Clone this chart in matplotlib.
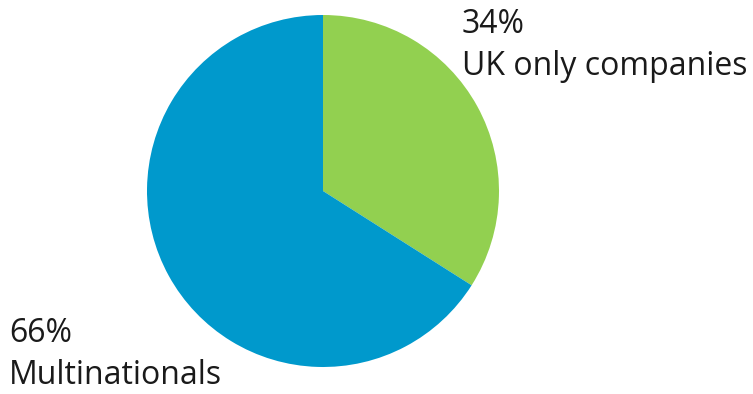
import matplotlib
matplotlib.use("Agg")
import matplotlib.pyplot as plt

labels = ["UK only companies", "Multinationals"]
shares = [34, 66]
colors = ["#92D050", "#0099CC"]

W, H = 753, 394
fig = plt.figure(figsize=(W / 100, H / 100), dpi=100)

# pie centre and radius in pixels
cx, cy, r = 323, 191, 176
ax = fig.add_axes([(cx - r) / W, (H - cy - r) / H, 2 * r / W, 2 * r / H])
ax.pie(shares, colors=colors, startangle=90, counterclock=False,
       radius=1, wedgeprops=dict(linewidth=0))
ax.set_xlim(-1, 1)
ax.set_ylim(-1, 1)
ax.set_aspect("equal")
ax.axis("off")

font = dict(family=["Open Sans", "DejaVu Sans"], fontsize=23, color="#1a1a1a",
            va="baseline", ha="left")

def ptext(x, y, s):
    fig.text(x / W, 1 - y / H, s, **font)

ptext(462, 33, f"{shares[0]}%")
ptext(462, 75, labels[0])
ptext(9, 342, f"{shares[1]}%")
ptext(9, 384, labels[1])

fig.savefig("out.png", dpi=100)
